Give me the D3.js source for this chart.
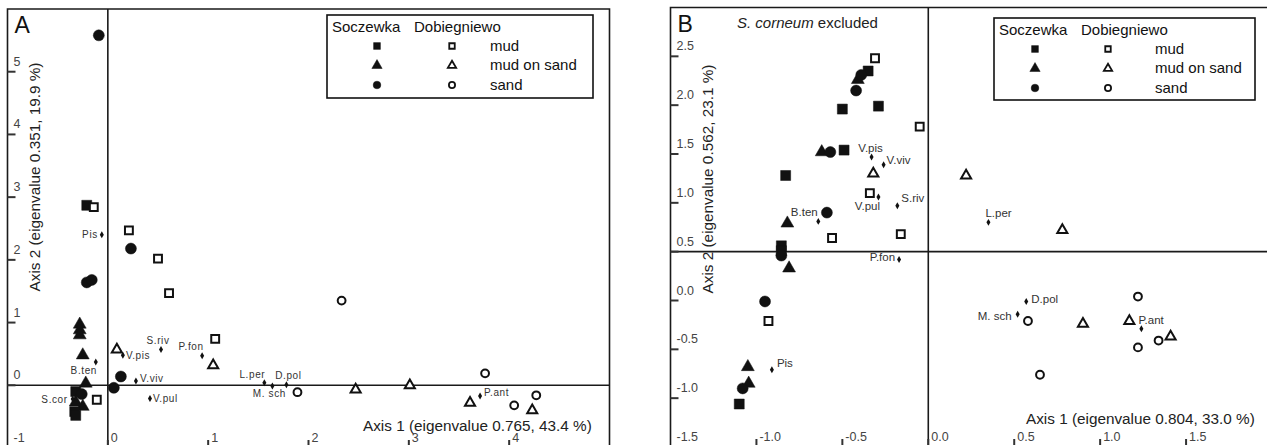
<!DOCTYPE html>
<html>
<head>
<meta charset="utf-8">
<script src="https://cdn.jsdelivr.net/npm/d3@7/dist/d3.min.js"></script>
<style>
    body { margin: 0; background: #fff; }
    svg  { display: block; font-family: "Liberation Sans", Arial, sans-serif; }
</style>
</head>
<body>
<svg id="chart" width="1267" height="445"></svg>
<script>
// ---------------------------------------------------------------------------
// Données
// ---------------------------------------------------------------------------
const sites      = ['Soczewka', 'Dobiegniewo'];
const substrates = ['mud', 'mud on sand', 'sand'];

// Panneau A : [site, substrat, axe 1, axe 2]
const samplesA = [
    ['Soczewka', 'sand', -0.09, 5.58],
    ['Soczewka', 'mud', -0.21, 2.87],
    ['Dobiegniewo', 'mud', -0.14, 2.84],
    ['Dobiegniewo', 'mud', 0.21, 2.47],
    ['Soczewka', 'sand', 0.23, 2.18],
    ['Dobiegniewo', 'mud', 0.50, 2.02],
    ['Dobiegniewo', 'mud', 0.61, 1.47],
    ['Soczewka', 'sand', -0.21, 1.64],
    ['Soczewka', 'sand', -0.16, 1.68],
    ['Soczewka', 'mud on sand', -0.28, 0.97],
    ['Soczewka', 'mud on sand', -0.28, 0.88],
    ['Soczewka', 'mud on sand', -0.28, 0.80],
    ['Soczewka', 'mud on sand', -0.25, 0.48],
    ['Dobiegniewo', 'mud on sand', 0.09, 0.57],
    ['Dobiegniewo', 'mud', 1.07, 0.74],
    ['Dobiegniewo', 'mud on sand', 1.05, 0.32],
    ['Soczewka', 'sand', 0.13, 0.14],
    ['Soczewka', 'sand', 0.06, -0.04],
    ['Soczewka', 'mud on sand', -0.22, 0.03],
    ['Dobiegniewo', 'mud', -0.11, -0.23],
    ['Soczewka', 'mud', -0.32, -0.10],
    ['Soczewka', 'sand', -0.26, -0.14],
    ['Soczewka', 'mud on sand', -0.32, -0.27],
    ['Soczewka', 'mud on sand', -0.25, -0.34],
    ['Soczewka', 'mud', -0.33, -0.42],
    ['Soczewka', 'mud', -0.32, -0.48],
    ['Dobiegniewo', 'sand', 1.89, -0.11],
    ['Dobiegniewo', 'sand', 2.33, 1.35],
    ['Dobiegniewo', 'mud on sand', 2.47, -0.07],
    ['Dobiegniewo', 'mud on sand', 3.01, 0.00],
    ['Dobiegniewo', 'sand', 3.76, 0.19],
    ['Dobiegniewo', 'mud on sand', 3.61, -0.28],
    ['Dobiegniewo', 'sand', 4.05, -0.32],
    ['Dobiegniewo', 'sand', 4.27, -0.16],
    ['Dobiegniewo', 'mud on sand', 4.23, -0.40],
];

// Espèces A : [nom, axe 1, axe 2]
const speciesA = [
    ['Pis', -0.06, 2.40],
    ['B.ten', -0.12, 0.37],
    ['V.pis', 0.15, 0.48],
    ['S.riv', 0.53, 0.57],
    ['P.fon', 0.94, 0.47],
    ['V.viv', 0.28, 0.07],
    ['V.pul', 0.42, -0.21],
    ['L.per', 1.56, 0.04],
    ['M. sch', 1.64, -0.01],
    ['D.pol', 1.78, 0.01],
    ['S.cor', -0.35, -0.22],
    ['P.ant', 3.71, -0.17],
];

// Panneau B (S. corneum exclu)
const samplesB = [
    ['Dobiegniewo', 'mud', -0.31, 2.48],
    ['Soczewka', 'mud', -0.35, 2.35],
    ['Soczewka', 'mud on sand', -0.41, 2.26],
    ['Soczewka', 'sand', -0.39, 2.31],
    ['Soczewka', 'sand', -0.42, 2.15],
    ['Soczewka', 'mud', -0.50, 1.96],
    ['Soczewka', 'mud', -0.29, 1.99],
    ['Dobiegniewo', 'mud', -0.05, 1.78],
    ['Soczewka', 'mud on sand', -0.62, 1.52],
    ['Soczewka', 'sand', -0.57, 1.52],
    ['Soczewka', 'mud', -0.49, 1.54],
    ['Dobiegniewo', 'mud on sand', -0.32, 1.30],
    ['Soczewka', 'mud', -0.83, 1.28],
    ['Dobiegniewo', 'mud', -0.34, 1.10],
    ['Soczewka', 'sand', -0.59, 0.90],
    ['Soczewka', 'mud on sand', -0.82, 0.79],
    ['Dobiegniewo', 'mud', -0.56, 0.64],
    ['Dobiegniewo', 'mud', -0.16, 0.68],
    ['Soczewka', 'mud', -0.855, 0.56],
    ['Soczewka', 'mud', -0.855, 0.51],
    ['Soczewka', 'sand', -0.855, 0.46],
    ['Soczewka', 'mud on sand', -0.81, 0.33],
    ['Soczewka', 'sand', -0.95, -0.01],
    ['Dobiegniewo', 'mud', -0.93, -0.21],
    ['Soczewka', 'mud on sand', -1.05, -0.68],
    ['Soczewka', 'mud on sand', -1.045, -0.85],
    ['Soczewka', 'sand', -1.08, -0.90],
    ['Soczewka', 'mud', -1.10, -1.06],
    ['Dobiegniewo', 'mud on sand', 0.22, 1.28],
    ['Dobiegniewo', 'mud on sand', 0.78, 0.72],
    ['Dobiegniewo', 'sand', 0.58, -0.21],
    ['Dobiegniewo', 'mud on sand', 0.90, -0.24],
    ['Dobiegniewo', 'sand', 1.22, 0.04],
    ['Dobiegniewo', 'mud on sand', 1.17, -0.21],
    ['Dobiegniewo', 'sand', 1.34, -0.41],
    ['Dobiegniewo', 'mud on sand', 1.41, -0.37],
    ['Dobiegniewo', 'sand', 1.22, -0.48],
    ['Dobiegniewo', 'sand', 0.65, -0.76],
];

const speciesB = [
    ['V.pis', -0.33, 1.47],
    ['V.viv', -0.26, 1.39],
    ['V.pul', -0.29, 1.06],
    ['S.riv', -0.18, 0.97],
    ['B.ten', -0.64, 0.81],
    ['P.fon', -0.17, 0.42],
    ['Pis', -0.91, -0.71],
    ['L.per', 0.35, 0.80],
    ['D.pol', 0.57, -0.01],
    ['M. sch', 0.52, -0.14],
    ['P.ant', 1.24, -0.29],
];

// Graduations
const ticksAx = [0, 1, 2, 3, 4];
const ticksAy = [-1, 0, 1, 2, 3, 4, 5];
const ticksBx = [-1.0, -0.5, 0.0, 0.5, 1.0, 1.5];
const ticksBy = [-1.5, -1.0, -0.5, 0.0, 0.5, 1.0, 1.5, 2.0, 2.5];

const titleA  = 'Axis 1 (eigenvalue 0.765, 43.4 %)';
const titleAy = 'Axis 2 (eigenvalue 0.351, 19.9 %)';
const titleB  = 'Axis 1 (eigenvalue 0.804, 33.0 %)';
const titleBy = 'Axis 2 (eigenvalue 0.562, 23.1 %)';

// ---------------------------------------------------------------------------
// Mise en page
// ---------------------------------------------------------------------------
const svg = d3.select('#chart');
const locale = d3.formatLocale({ decimal: '.', thousands: ',', grouping: [3], currency: ['', ''], minus: '-' });
const fmtInt = locale.format('d');
const fmtOne = locale.format('.1f');

const shapeOf = { 'mud': d3.symbolSquare, 'mud on sand': d3.symbolTriangle, 'sand': d3.symbolCircle };
// aire des symboles [plein, vide]
const sizeOf  = { 'mud': [100, 62], 'mud on sand': [72, 44], 'sand': [95, 48] };

// Position des étiquettes d'espèces : [dx, dy, ancrage]
const labelPosA = {
    'Pis': [-4, 0, 'end'], 'B.ten': [-12, 8, 'middle'], 'V.pis': [3, 0, 'start'],
    'S.riv': [-3, -9, 'middle'], 'P.fon': [-11, -9, 'middle'], 'V.viv': [4, -2, 'start'],
    'V.pul': [3, 0, 'start'], 'L.per': [-12, -8, 'middle'], 'M. sch': [-3, 8, 'middle'],
    'D.pol': [2, -9, 'middle'], 'S.cor': [-5, 0, 'end'], 'P.ant': [4, -3, 'start'],
};
const labelPosB = {
    'V.pis': [-1, -9, 'middle'], 'V.viv': [3, -5, 'start'], 'V.pul': [-11, 9, 'middle'],
    'S.riv': [4, -8, 'start'], 'B.ten': [-14, -9, 'middle'], 'P.fon': [-4, -2, 'end'],
    'Pis': [5, -7, 'start'], 'L.per': [-3, -9, 'start'], 'D.pol': [5, -2, 'start'],
    'M. sch': [-6, 2, 'end'], 'P.ant': [-3, -9, 'start'],
};

function drawPanel(cfg) {
    const g = svg.append('g');
    const x = d3.scaleLinear().domain(cfg.xDomain).range([cfg.left, cfg.right]);
    const y = d3.scaleLinear().domain(cfg.yDomain).range([cfg.bottom, cfg.top]);

    // cadre
    g.append('path')
        .attr('d', `M${cfg.left},${cfg.bottom + 5}V${cfg.top}H${cfg.right}V${cfg.bottom + 5}`)
        .attr('fill', 'none').attr('stroke', '#1a1a1a').attr('stroke-width', 1.6);

    // axes de référence
    g.append('line')
        .attr('x1', x(0)).attr('x2', x(0)).attr('y1', cfg.top).attr('y2', cfg.bottom + 5)
        .attr('stroke', '#1a1a1a').attr('stroke-width', 1.6);
    g.append('line')
        .attr('x1', cfg.left).attr('x2', cfg.right).attr('y1', y(cfg.originY)).attr('y2', y(cfg.originY))
        .attr('stroke', '#1a1a1a').attr('stroke-width', 1.6);

    // graduations Y
    const gy = g.append('g');
    cfg.yTicks.forEach(v => {
        gy.append('line')
            .attr('x1', cfg.left).attr('x2', cfg.left + 8).attr('y1', y(v)).attr('y2', y(v))
            .attr('stroke', '#333').attr('stroke-width', 2);
        gy.append('text')
            .attr('x', cfg.left + 6).attr('y', y(v) - 10)
            .attr('dominant-baseline', 'central')
            .attr('font-size', 12.5).attr('fill', '#444')
            .text(cfg.fmt(v));
    });

    // graduations X
    const gx = g.append('g');
    cfg.xTicks.forEach(v => {
        gx.append('line')
            .attr('x1', x(v)).attr('x2', x(v)).attr('y1', cfg.bottom).attr('y2', cfg.bottom - 8)
            .attr('stroke', '#333').attr('stroke-width', 2);
        gx.append('text')
            .attr('x', x(v) + 3).attr('y', cfg.bottom - 10)
            .attr('dominant-baseline', 'central')
            .attr('font-size', 12.5).attr('fill', '#444')
            .text(cfg.fmt(v));
    });

    // titres d'axes
    g.append('text')
        .attr('x', cfg.xTitle[0]).attr('y', cfg.xTitle[1])
        .attr('dominant-baseline', 'central')
        .attr('font-size', 15.3).attr('fill', '#222')
        .text(cfg.xLabel);
    g.append('text')
        .attr('transform', `translate(${cfg.yTitle[0]},${cfg.yTitle[1]}) rotate(-90)`)
        .attr('text-anchor', 'middle')
        .attr('dominant-baseline', 'central')
        .attr('font-size', 15.3).attr('fill', '#222')
        .text(cfg.yLabel);

    // lettre du panneau
    g.append('text')
        .attr('x', cfg.left + 7).attr('y', cfg.top + 24)
        .attr('font-size', 23).attr('fill', '#111')
        .text(cfg.letter);

    // échantillons
    g.append('g').selectAll('path')
        .data(cfg.samples)
        .join('path')
        .attr('transform', d => `translate(${x(d[2])},${y(d[3])})`)
        .attr('d', d => {
            const filled = d[0] === sites[0];
            return d3.symbol(shapeOf[d[1]], sizeOf[d[1]][filled ? 0 : 1])();
        })
        .attr('fill', d => d[0] === sites[0] ? '#111' : '#fff')
        .attr('stroke', '#111')
        .attr('stroke-width', d => d[0] === sites[0] ? 0.5 : 2);

    // espèces
    const gs = g.append('g');
    gs.selectAll('path')
        .data(cfg.species)
        .join('path')
        .attr('transform', d => `translate(${x(d[1])},${y(d[2])})`)
        .attr('d', d3.symbol(d3.symbolDiamond, 14)())
        .attr('fill', '#111');
    gs.selectAll('text')
        .data(cfg.species)
        .join('text')
        .attr('x', d => x(d[1]) + cfg.labelPos[d[0]][0])
        .attr('y', d => y(d[2]) + cfg.labelPos[d[0]][1])
        .attr('text-anchor', d => cfg.labelPos[d[0]][2])
        .attr('dominant-baseline', 'central')
        .attr('font-size', cfg.speciesFont)
        .attr('letter-spacing', cfg.speciesSpacing)
        .attr('fill', '#333')
        .text(d => d[0]);

    // légende
    const L = cfg.legend;
    const gl = g.append('g');
    gl.append('rect')
        .attr('x', L.x).attr('y', L.y).attr('width', L.w).attr('height', L.h)
        .attr('fill', '#fff').attr('stroke', '#111').attr('stroke-width', 1.6);
    gl.append('text')
        .attr('x', L.x + 5).attr('y', L.y + 11)
        .attr('dominant-baseline', 'central')
        .attr('font-size', 15).attr('fill', '#111')
        .text(sites[0]);
    gl.append('text')
        .attr('x', L.x + 87).attr('y', L.y + 11)
        .attr('dominant-baseline', 'central')
        .attr('font-size', 15).attr('fill', '#111')
        .text(sites[1]);
    substrates.forEach((s, i) => {
        const yy = L.y + 31 + i * 19.5;
        sites.forEach((site, j) => {
            const filled = j === 0;
            gl.append('path')
                .attr('transform', `translate(${L.x + (filled ? L.c1 : L.c2)},${yy})`)
                .attr('d', d3.symbol(shapeOf[s], filled ? 46 : 30)())
                .attr('fill', filled ? '#111' : '#fff')
                .attr('stroke', '#111')
                .attr('stroke-width', filled ? 0.5 : 1.8);
        });
        gl.append('text')
            .attr('x', L.x + L.c3).attr('y', yy - 1)
            .attr('dominant-baseline', 'central')
            .attr('font-size', 15).attr('fill', '#111')
            .text(s);
    });

    return g;
}

drawPanel({
    letter: 'A',
    left: 7.5, right: 609.5, top: 9, bottom: 448,
    xDomain: [-1, 5], yDomain: [-1, 6], originY: 0,
    xTicks: ticksAx, yTicks: ticksAy, fmt: fmtInt,
    xLabel: titleA, yLabel: titleAy,
    xTitle: [363, 425], yTitle: [34, 177],
    samples: samplesA, species: speciesA, labelPos: labelPosA,
    speciesFont: 10, speciesSpacing: 0.6,
    legend: { x: 327, y: 15, w: 266, h: 83, c1: 50, c2: 125, c3: 163 },
});

const gB = drawPanel({
    letter: 'B',
    left: 670.5, right: 1272, top: 7.5, bottom: 447,
    xDomain: [-1.5, 2.0], yDomain: [-1.5, 3.0], originY: 0.5,
    xTicks: ticksBx, yTicks: ticksBy, fmt: fmtOne,
    xLabel: titleB, yLabel: titleBy,
    xTitle: [1026, 418], yTitle: [707, 179],
    samples: samplesB, species: speciesB, labelPos: labelPosB,
    speciesFont: 11.5, speciesSpacing: 0,
    legend: { x: 994, y: 18, w: 261, h: 82, c1: 41, c2: 114, c3: 161 },
});

// sous-titre du panneau B
const sub = gB.append('text')
    .attr('x', 737).attr('y', 22)
    .attr('dominant-baseline', 'central')
    .attr('font-size', 15).attr('fill', '#222');
sub.append('tspan').attr('font-style', 'italic').text('S. corneum');
sub.append('tspan').text(' excluded');
</script>
</body>
</html>
